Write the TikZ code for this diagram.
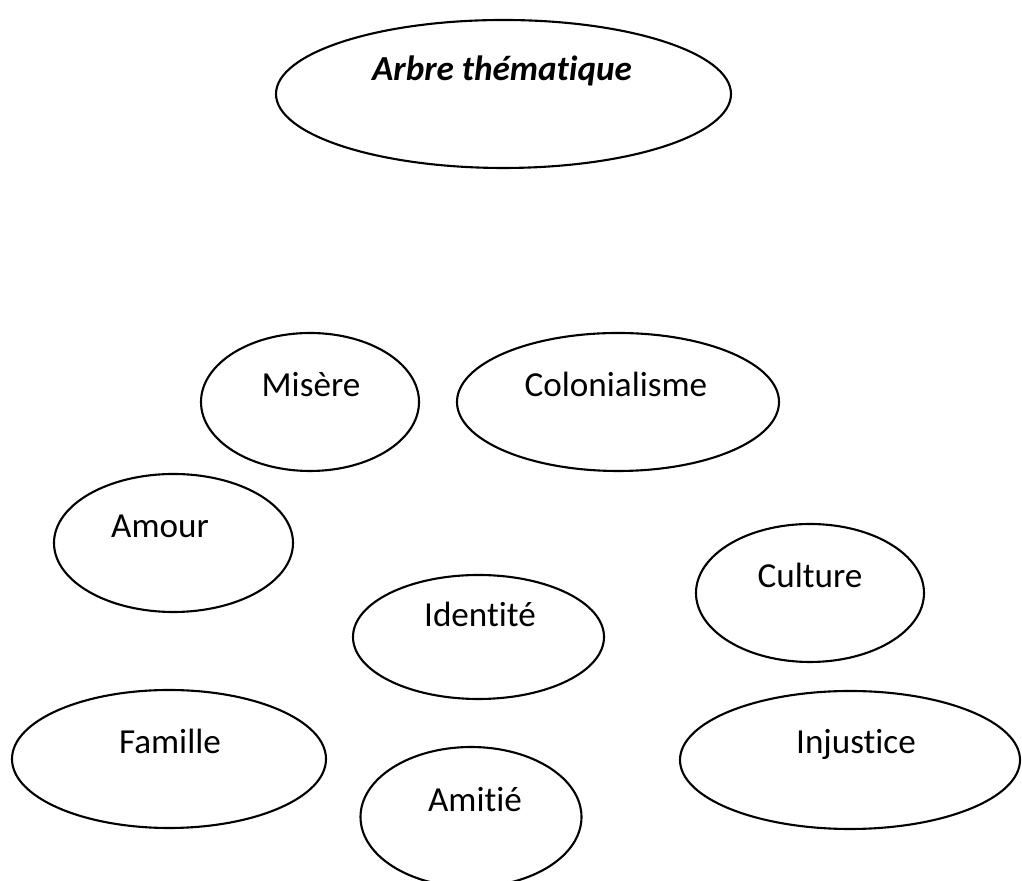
\documentclass[tikz,border=0pt]{standalone}
\usepackage{fontspec}
\setmainfont{Carlito}[Ligatures=NoCommon]
\usepackage{tikz}
\usetikzlibrary{shapes.geometric}

\begin{document}
\begin{tikzpicture}[x=1cm,y=1cm,font=\fontsize{20}{24}\selectfont,
                    bulle/.style n args={2}{ellipse,draw,line width=1.2pt,inner sep=0pt,
                                            minimum width=#1cm,minimum height=#2cm},
                    mot/.style={anchor=base,inner sep=0pt}]
  \useasboundingbox (0,0) rectangle (20.44,17.62);
  % title
  \node[bulle={9.10}{2.96}] (titre) at (10.07,15.74) {};
  \node[mot,font=\fontsize{20}{24}\selectfont\bfseries\itshape] (t-titre) at (10.04,16.00) {Arbre thématique};
  % upper row
  \node[bulle={4.36}{2.76}] (misere) at (6.20,9.58) {};
  \node[mot] (t-misere) at (6.22,9.68) {Misère};
  \node[bulle={6.44}{2.76}] (colon) at (12.36,9.58) {};
  \node[mot] (t-colon) at (12.32,9.68) {Colonialisme};
  % middle
  \node[bulle={4.78}{2.76}] (amour) at (3.47,6.76) {};
  \node[mot] (t-amour) at (3.20,6.86) {Amour};
  \node[bulle={5.02}{2.48}] (ident) at (9.57,4.88) {};
  \node[mot] (t-ident) at (9.60,5.08) {Identité};
  \node[bulle={4.56}{2.76}] (culture) at (16.20,5.76) {};
  \node[mot] (t-culture) at (16.20,5.86) {Culture};
  % lower row
  \node[bulle={6.28}{2.76}] (famille) at (3.38,2.44) {};
  \node[mot] (t-famille) at (3.40,2.54) {Famille};
  \node[bulle={4.42}{2.80}] (amitie) at (9.42,1.28) {};
  \node[mot] (t-amitie) at (9.50,1.38) {Amitié};
  \node[bulle={6.80}{2.76}] (injust) at (17.00,2.42) {};
  \node[mot] (t-injust) at (17.12,2.54) {Injustice};
\end{tikzpicture}
\end{document}
